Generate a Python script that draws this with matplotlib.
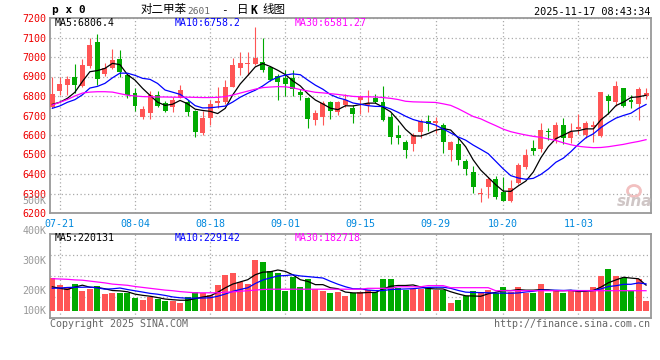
import matplotlib
matplotlib.use('Agg')
import matplotlib.pyplot as plt
import matplotlib.transforms as mtransforms
from matplotlib.patches import Ellipse
import numpy as np
import pandas as pd

plt.rcParams['font.family'] = ['DejaVu Sans', 'Noto Sans CJK SC']

# PX2601 daily K, 80 sessions (07-18 .. 11-14)
opens = [6745, 6826, 6856, 6899, 6853, 6956, 7079, 6913, 6945, 6990,
         6908, 6814, 6694, 6714, 6805, 6762, 6745, 6791, 6768, 6725,
         6609, 6689, 6764, 6771, 6848, 6942, 6962, 6966, 6976, 6950,
         6903, 6890, 6893, 6821, 6792, 6677, 6690, 6768, 6720, 6754,
         6740, 6780, 6754, 6791, 6768, 6694, 6600, 6566, 6554, 6617,
         6672, 6660, 6651, 6523, 6552, 6467, 6412, 6300, 6335, 6375,
         6306, 6263, 6352, 6434, 6532, 6528, 6621, 6580, 6651, 6586,
         6631, 6600, 6639, 6597, 6800, 6768, 6839, 6780, 6757, 6800]
highs = [6899, 6899, 6902, 6962, 6990, 7096, 7118, 6971, 7041, 7036,
         6911, 6840, 6750, 6826, 6826, 6774, 6797, 6856, 6780, 6728,
         6723, 6780, 6848, 6880, 6997, 7027, 7027, 7155, 7100, 6955,
         6915, 6933, 6933, 6836, 6797, 6730, 6772, 6775, 6774, 6809,
         6752, 6805, 6831, 6809, 6853, 6711, 6651, 6575, 6609, 6682,
         6703, 6694, 6663, 6569, 6583, 6477, 6441, 6327, 6386, 6392,
         6383, 6369, 6458, 6527, 6574, 6660, 6634, 6665, 6686, 6660,
         6708, 6672, 6672, 6819, 6810, 6877, 6843, 6805, 6848, 6843]
lows = [6740, 6805, 6805, 6814, 6845, 6942, 6856, 6905, 6940, 6899,
        6788, 6721, 6682, 6680, 6745, 6720, 6720, 6788, 6699, 6592,
        6600, 6651, 6737, 6760, 6845, 6908, 6908, 6957, 6925, 6878,
        6777, 6800, 6800, 6780, 6638, 6650, 6650, 6680, 6703, 6745,
        6660, 6706, 6720, 6762, 6672, 6552, 6552, 6484, 6518, 6583,
        6621, 6609, 6510, 6467, 6446, 6395, 6301, 6255, 6279, 6272,
        6260, 6258, 6347, 6426, 6498, 6515, 6574, 6557, 6554, 6557,
        6603, 6583, 6566, 6592, 6708, 6750, 6745, 6740, 6677, 6783]
closes = [6810, 6860, 6886, 6856, 6959, 7062, 6889, 6942, 6985, 6925,
          6805, 6750, 6733, 6803, 6751, 6723, 6779, 6831, 6716, 6614,
          6689, 6757, 6774, 6848, 6959, 6971, 6971, 6997, 6935, 6882,
          6874, 6862, 6835, 6805, 6680, 6715, 6762, 6725, 6768, 6780,
          6710, 6797, 6762, 6768, 6677, 6592, 6586, 6523, 6600, 6672,
          6655, 6672, 6566, 6563, 6472, 6426, 6335, 6305, 6375, 6284,
          6263, 6327, 6446, 6498, 6518, 6626, 6614, 6651, 6586, 6617,
          6643, 6660, 6651, 6819, 6774, 6851, 6750, 6768, 6836, 6814]
# volume in thousands of lots
volumes = [242, 220, 212, 223, 200, 207, 217, 190, 194, 194,
           192, 178, 170, 179, 172, 167, 167, 161, 179, 198,
           194, 187, 220, 253, 261, 231, 223, 303, 296, 267,
           261, 200, 246, 214, 239, 207, 200, 194, 198, 183,
           194, 198, 203, 198, 240, 240, 211, 203, 207, 207,
           214, 203, 203, 161, 170, 183, 200, 198, 203, 194,
           214, 198, 214, 194, 194, 223, 194, 200, 194, 200,
           203, 198, 214, 250, 273, 250, 242, 200, 239, 167]
# sessions just before the window (estimated from where MA5/MA10 start)
closes_before = [6740, 6700, 6720, 6710, 6715, 6805, 6786, 6701, 6683]
volumes_before = [210, 195, 215, 200, 200, 245, 232, 183, 168]
# MA30
ma30_price = [6754, 6768, 6782, 6800, 6815, 6820, 6822, 6822, 6820, 6812,
              6804, 6800, 6797, 6796, 6795, 6795, 6794, 6794, 6794, 6793,
              6792, 6792, 6793, 6797, 6805, 6815, 6825, 6835, 6843, 6846,
              6848, 6847, 6842, 6833, 6826, 6819, 6816, 6812, 6808, 6803,
              6798, 6796, 6796, 6795, 6792, 6788, 6782, 6773, 6770, 6769,
              6768, 6767, 6760, 6752, 6735, 6715, 6695, 6683, 6665, 6648,
              6630, 6617, 6608, 6600, 6593, 6588, 6580, 6572, 6560, 6550,
              6542, 6538, 6535, 6536, 6540, 6546, 6552, 6560, 6567, 6576]
ma30_vol = [241, 240, 239, 237, 236, 233, 230, 227, 223, 221,
            219, 215, 212, 209, 206, 203, 201, 198, 196, 194,
            194, 194, 194, 196, 197, 199, 201, 203, 205, 206,
            206, 206, 206, 206, 206, 206, 206, 206, 206, 206,
            206, 206, 209, 209, 209, 209, 214, 214, 214, 214,
            218, 218, 218, 211, 211, 211, 211, 211, 211, 201,
            201, 201, 201, 201, 201, 201, 201, 201, 201, 201,
            201, 201, 201, 201, 201, 201, 201, 201, 201, 201]

tick_pos = [1, 11, 21, 31, 41, 51, 60, 70]
tick_labels = ['07-21', '08-04', '08-18', '09-01', '09-15', '09-29', '10-20', '11-03']
price_ticks = list(range(6200, 7300, 100))
vol_labels = ['500K', '400K', '300K', '200K', '100K']
vol_label_vals = [500, 400, 300, 200, 133]

RED = '#ff5555'
GREEN = '#00aa00'
MONO = 'DejaVu Sans Mono'
W, H = 660, 360
VOL_BASE = 133

n = len(closes)
x = np.arange(n)
o = np.array(opens)
c = np.array(closes)
up = c >= o
cols = np.where(up, RED, GREEN)

cs = pd.Series(closes_before + closes)
ma5 = cs.rolling(5).mean().iloc[len(closes_before):].values
ma10 = cs.rolling(10).mean().iloc[len(closes_before):].values
vs = pd.Series(volumes_before + volumes)
vma5 = vs.rolling(5).mean().iloc[len(volumes_before):].values
vma10 = vs.rolling(10).mean().iloc[len(volumes_before):].values

fig = plt.figure(figsize=(W / 100, H / 100), dpi=100)


def box(l, t, r, b):
    return [l / W, 1 - b / H, (r - l) / W, (b - t) / H]


def ftext(px, py, s, **kw):
    fig.text(px / W, 1 - py / H, s, va='center', **kw)


ax = fig.add_axes(box(50, 18, 651, 213))
axv = fig.add_axes(box(50, 234, 651, 318))

# candles
ax.vlines(x, lows, highs, colors=cols, lw=0.8, zorder=3)
body = np.maximum(np.abs(c - o), 4)
ax.bar(x, body, bottom=np.minimum(o, c), width=0.66, color=cols, lw=0, zorder=4)
ax.plot(x, ma5, color='black', lw=0.9, zorder=5)
ax.plot(x, ma10, color='#0000ff', lw=0.9, zorder=5)
ax.plot(x, ma30_price, color='#ff00ff', lw=0.9, zorder=5)
ax.set_ylim(6200, 7200)
ax.set_yticks(price_ticks)
ax.set_yticklabels([str(v) for v in price_ticks], color='#ee0000', family=MONO, fontsize=7.2)

# volume
axv.bar(x, np.array(volumes) - VOL_BASE, bottom=VOL_BASE, width=0.8, color=cols, lw=0, zorder=3)
axv.plot(x, vma5, color='black', lw=0.9, zorder=5)
axv.plot(x, vma10, color='#0000ff', lw=0.9, zorder=5)
axv.plot(x, ma30_vol, color='#ff00ff', lw=0.9, zorder=5)
axv.set_ylim(110, 390)
axv.set_yticks([180, 250, 320])
axv.set_yticklabels([])
trans = mtransforms.blended_transform_factory(axv.transAxes, axv.transData)
for lab, v in zip(vol_labels, vol_label_vals):
    axv.text(-0.006, v, lab, transform=trans, ha='right', va='center',
             color='#999999', family=MONO, fontsize=7.2, clip_on=False)

for a in (ax, axv):
    a.set_xlim(-0.31, 79.66)
    a.set_xticks(tick_pos)
    a.grid(True, color='#aaaaaa', ls=(0, (1, 2)), lw=0.9)
    a.set_axisbelow(True)
    a.tick_params(length=0, pad=2.5)
    for sp in a.spines.values():
        sp.set_color('#999999')
        sp.set_linewidth(1.3)
ax.set_xticklabels(tick_labels, color='#0088dd', family=MONO, fontsize=7.2)
ax.tick_params(axis='x', pad=4)
axv.set_xticklabels([])

# header
ftext(52, 10, 'p x 0', family=MONO, fontweight='bold', fontsize=8)
cjk = ['Noto Sans CJK SC', 'DejaVu Sans']
ftext(141, 10, '对二甲苯', family=cjk, fontsize=8.3)
ftext(187, 11, '2601', family=MONO, fontsize=6.8, color='#666666')
ftext(221, 10, '-', family=MONO, fontsize=8)
ftext(237, 10, '日', family=cjk, fontsize=8.3)
ftext(250, 10, 'K', family=MONO, fontsize=8.3, fontweight='bold')
ftext(262, 10, '线图', family=cjk, fontsize=8.3)
ftext(650, 12, '2025-11-17 08:43:34', family=MONO, fontsize=7.4, ha='right')

# MA legends
ftext(55, 23, 'MA5:6806.4', family=MONO, fontsize=7.1, color='black')
ftext(175, 23, 'MA10:6758.2', family=MONO, fontsize=7.1, color='#0000ff')
ftext(295, 23, 'MA30:6581.27', family=MONO, fontsize=7.1, color='#ff00ff')
ftext(55, 238, 'MA5:220131', family=MONO, fontsize=7.1, color='black')
ftext(175, 238, 'MA10:229142', family=MONO, fontsize=7.1, color='#0000ff')
ftext(295, 238, 'MA30:182718', family=MONO, fontsize=7.1, color='#ff00ff')

# footer and watermark
ftext(50, 324, 'Copyright 2025 SINA.COM', family=MONO, fontsize=7.2, color='#666666')
ftext(650, 324, 'http://finance.sina.com.cn', family=MONO, fontsize=7.2, color='#666666', ha='right')
fig.patches.append(Ellipse((634 / W, 1 - 191 / H), 13 / W, 11 / H, transform=fig.transFigure,
                           facecolor='none', edgecolor='#f2c0c0', lw=2))
ftext(635, 201, 'sina', fontsize=11, fontweight='bold', style='italic', color='#cfc6c6', ha='center')

fig.savefig('out.png', dpi=100)
